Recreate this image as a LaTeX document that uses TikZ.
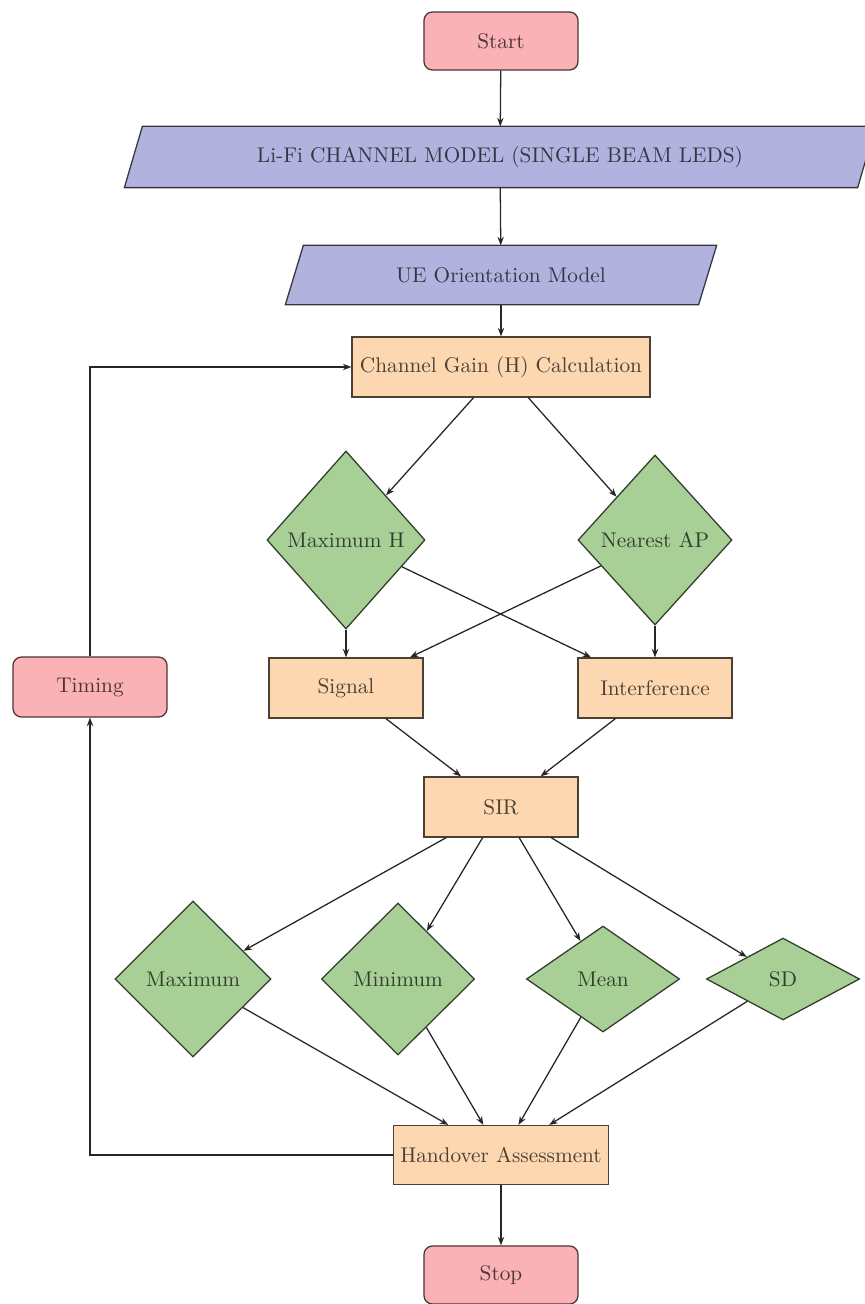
\documentclass[tikz,border=0pt]{standalone}
\usetikzlibrary{shapes.geometric,arrows.meta,backgrounds}
\definecolor{pinkc}{RGB}{250,178,182}
\definecolor{lavc}{RGB}{178,178,222}
\definecolor{peachc}{RGB}{253,215,176}
\definecolor{greenc}{RGB}{168,208,150}
\tikzset{
  base/.style={line width=0.6pt, inner sep=0pt, font=\normalsize},
  termbox/.style={base, rectangle, rounded corners=4pt, minimum width=72.4pt, minimum height=27.3pt, fill=pinkc, draw=pinkc!30!black, text=pinkc!30!black},
  iobox/.style={base, rectangle, text=lavc!30!black},
  ioshape/.style={line width=0.6pt, fill=lavc, draw=lavc!30!black},
  procbox/.style={base, rectangle, minimum width=72.4pt, minimum height=28.2pt, fill=peachc, draw=peachc!30!black, text=peachc!30!black},
  decbox/.style={base, diamond, fill=greenc, draw=greenc!30!black, text=greenc!30!black},
  arr/.style={line width=0.6pt, draw=black!85, -{Stealth[length=4pt,width=3pt]}}
}
\begin{document}
\begin{tikzpicture}[x=0.47pt, y=-0.47pt]
\useasboundingbox (0,0) rectangle (865,1304);
\node[termbox] (start) at (501,41) {Start};
\node[iobox, minimum width=352.5pt, minimum height=28.2pt] (lifi) at (500,157) {Li-Fi CHANNEL MODEL (SINGLE BEAM LEDS)};
\node[iobox, minimum width=202.1pt, minimum height=27.3pt] (ue) at (501,275) {UE Orientation Model};
\begin{scope}[on background layer]
\draw[ioshape] (lifi.south west) -- ([xshift=-8.46pt]lifi.south east) -- (lifi.north east) -- ([xshift=8.46pt]lifi.north west) -- cycle;
\draw[ioshape] (ue.south west) -- ([xshift=-8.46pt]ue.south east) -- (ue.north east) -- ([xshift=8.46pt]ue.north west) -- cycle;
\end{scope}
\node[procbox, minimum width=140pt] (cg) at (501,367) {Channel Gain (H) Calculation};
\node[decbox, minimum width=74.3pt, minimum height=83.7pt] (maxh) at (346,540) {Maximum H};
\node[decbox, minimum width=72.4pt, minimum height=79.9pt] (nap) at (655,540) {Nearest AP};
\node[procbox] (sig) at (346,688) {Signal};
\node[procbox] (intf) at (655,688) {Interference};
\node[procbox] (sir) at (501,807) {SIR};
\node[decbox, minimum width=73.3pt, minimum height=73.3pt] (max) at (193,979) {Maximum};
\node[decbox, minimum width=72pt, minimum height=71.4pt] (min) at (398,979) {Minimum};
\node[decbox, minimum width=72pt, minimum height=49.8pt] (mean) at (603,979) {Mean};
\node[decbox, minimum width=72pt, minimum height=38.5pt] (sd) at (783,979) {SD};
\node[procbox, minimum width=101pt, minimum height=27.7pt] (ha) at (501,1155) {Handover Assessment};
\node[termbox] (stop) at (501,1275) {Stop};
\node[termbox, minimum height=28.2pt] (timing) at (90,687) {Timing};

\draw[arr] (start) -- (lifi);
\draw[arr] (lifi) -- (ue);
\draw[arr] (ue) -- (cg);
\draw[arr] (cg) -- (maxh);
\draw[arr] (cg) -- (nap);
\draw[arr] (maxh) -- (sig);
\draw[arr] (nap) -- (intf);
\draw[arr] (maxh) -- (intf);
\draw[arr] (nap) -- (sig);
\draw[arr] (sig) -- (sir);
\draw[arr] (intf) -- (sir);
\draw[arr] (sir) -- (max);
\draw[arr] (sir) -- (min);
\draw[arr] (sir) -- (mean);
\draw[arr] (sir) -- (sd);
\draw[arr] (max) -- (ha);
\draw[arr] (min) -- (ha);
\draw[arr] (mean) -- (ha);
\draw[arr] (sd) -- (ha);
\draw[arr] (ha) -- (stop);
\draw[arr] (ha.west) -| (timing.south);
\draw[arr] (timing.north) |- (cg.west);
\end{tikzpicture}
\end{document}
